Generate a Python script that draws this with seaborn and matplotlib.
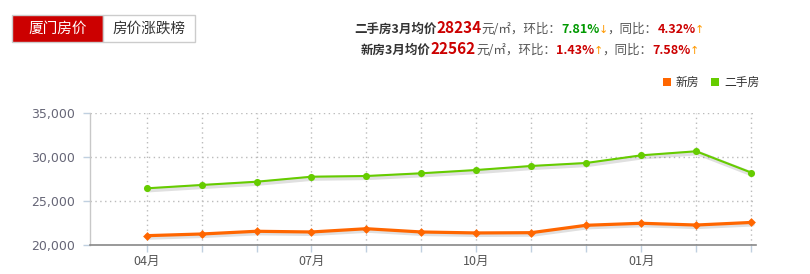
import matplotlib
matplotlib.use("Agg")
import matplotlib.pyplot as plt
import matplotlib.patheffects as pe
from matplotlib.patches import Rectangle
import seaborn as sns
import pandas as pd

months = ["04月", "05月", "06月", "07月", "08月", "09月", "10月", "11月", "12月", "01月", "02月", "03月"]
new_house = [21060, 21250, 21560, 21480, 21850, 21480, 21370, 21400, 22240, 22470, 22270, 22562]
second_hand = [26440, 26820, 27190, 27760, 27840, 28150, 28520, 28980, 29320, 30190, 30650, 28234]
y_ticks = [20000, 25000, 30000, 35000]
shown_labels = ["04月", "07月", "10月", "01月"]

sns.set_theme(style="white")
plt.rcParams['font.family'] = ['Noto Sans CJK SC', 'DejaVu Sans']

W, H = 810, 274
fig = plt.figure(figsize=(W / 100, H / 100), dpi=100)

def fx(x):
    return x / W

def fy(y):
    return 1 - y / H

ax = fig.add_axes([fx(90), fy(245), fx(756) - fx(90), fy(113) - fy(245)])

df = pd.DataFrame({"idx": list(range(len(months))) * 2,
                   "value": new_house + second_hand,
                   "series": ["新房"] * len(months) + ["二手房"] * len(months)})
df_old = df[df.series == "二手房"]
df_new = df[df.series == "新房"]

shadow = [pe.SimpleLineShadow(offset=(1, -1.2), shadow_color='black', alpha=0.12, linewidth=3.5), pe.Normal()]
sns.lineplot(data=df_old, x="idx", y="value", color="#66CC00", linewidth=1.5, ax=ax, legend=False)
sns.lineplot(data=df_new, x="idx", y="value", color="#FF6600", linewidth=2.3, ax=ax, legend=False)
for ln in ax.get_lines():
    ln.set_path_effects(shadow)
    ln.set_zorder(5)
sns.scatterplot(data=df_old, x="idx", y="value", color="#66CC00", marker="o", s=26,
                linewidth=0, ax=ax, legend=False, zorder=6)
sns.scatterplot(data=df_new, x="idx", y="value", color="#FF6600", marker="D", s=20,
                linewidth=0, ax=ax, legend=False, zorder=6)

ax.set_xlim(-1.03, 11.09)
ax.set_ylim(20000, 35000)
ax.set_xlabel("")
ax.set_ylabel("")

# gridlines
for yv in y_ticks[1:]:
    ax.axhline(yv, color="#bbbbbb", linestyle=(0, (1, 2.5)), linewidth=1, zorder=1)
for i in range(len(months)):
    ax.axvline(i, color="#bbbbbb", linestyle=(0, (1, 2.5)), linewidth=1, zorder=1)

for s in ["top", "right"]:
    ax.spines[s].set_visible(False)
ax.spines["bottom"].set_color("#888888")
ax.spines["bottom"].set_linewidth(1.2)
ax.spines["left"].set_color("#c8c8c8")
ax.spines["left"].set_linestyle((0, (1, 1)))
ax.spines["left"].set_linewidth(1)

ax.set_yticks(y_ticks)
ax.set_yticklabels([f"{v:,}" for v in y_ticks], fontsize=9, color="#666677", family="DejaVu Sans")
ax.set_xticks(list(range(len(months))))
ax.set_xticklabels([m if m in shown_labels else "" for m in months], fontsize=9, color="#555555")
ax.tick_params(axis="x", bottom=True, length=5, color="#C0D0E0", width=1, pad=2)
ax.tick_params(axis="y", left=True, length=5, color="#C0D0E0", width=1, pad=6)

# tabs
fig.patches.append(Rectangle((fx(12), fy(42)), fx(103) - fx(12), fy(15) - fy(42),
                             transform=fig.transFigure, facecolor="#CC0000", edgecolor="#cccccc", linewidth=1))
fig.patches.append(Rectangle((fx(103), fy(42)), fx(195) - fx(103), fy(15) - fy(42),
                             transform=fig.transFigure, facecolor="white", edgecolor="#cccccc", linewidth=1))
fig.text(fx(57.5), fy(28.5), "厦门房价", color="white", fontsize=10.5, ha="center", va="center")
fig.text(fx(149), fy(28.5), "房价涨跌榜", color="#333333", fontsize=10.5, ha="center", va="center")

# legend
fig.patches.append(Rectangle((fx(663), fy(86)), fx(8), fy(78) - fy(86), transform=fig.transFigure,
                             facecolor="#FF6600", edgecolor="none"))
fig.text(fx(676), fy(82), "新房", color="#333333", fontsize=8.5, ha="left", va="center")
fig.patches.append(Rectangle((fx(711), fy(86)), fx(8), fy(78) - fy(86), transform=fig.transFigure,
                             facecolor="#66CC00", edgecolor="none"))
fig.text(fx(724), fy(82), "二手房", color="#333333", fontsize=8.5, ha="left", va="center")

# header summary lines (text, colour, size, weight, fixed advance in px or None)
line1 = [("二手房3月均价", "#333333", 9, "bold", None), ("28234", "#CC0000", 11, "bold", None),
         ("元/㎡，环比：", "#555555", 9, "normal", None), ("7.81%", "#009900", 9, "bold", None),
         ("↓", "#FF9900", 8, "normal", 8), ("，同比：", "#555555", 9, "normal", None),
         ("4.32%", "#CC0000", 9, "bold", None), ("↑", "#FF9900", 8, "normal", 8)]
line2 = [("新房3月均价", "#333333", 9, "bold", None), ("22562", "#CC0000", 11, "bold", None),
         ("元/㎡，环比：", "#555555", 9, "normal", None), ("1.43%", "#CC0000", 9, "bold", None),
         ("↑", "#FF9900", 8, "normal", 8), ("，同比：", "#555555", 9, "normal", None),
         ("7.58%", "#CC0000", 9, "bold", None), ("↑", "#FF9900", 8, "normal", 8)]

renderer = fig.canvas.get_renderer()

def draw_segments(segs, x0, ybase):
    x = x0
    for txt, col, size, wt, adv in segs:
        if adv is not None:
            t = fig.text(fx(x + adv / 2), fy(ybase), txt, color=col, fontsize=size, fontweight=wt,
                         ha="center", va="baseline", family="DejaVu Sans")
            x = x + adv
        else:
            t = fig.text(fx(x), fy(ybase), txt, color=col, fontsize=size, fontweight=wt,
                         ha="left", va="baseline")
            bb = t.get_window_extent(renderer)
            x = bb.x1

draw_segments(line1, 354, 33)
draw_segments(line2, 361, 54)

fig.savefig("out.png", dpi=100, facecolor="white")
